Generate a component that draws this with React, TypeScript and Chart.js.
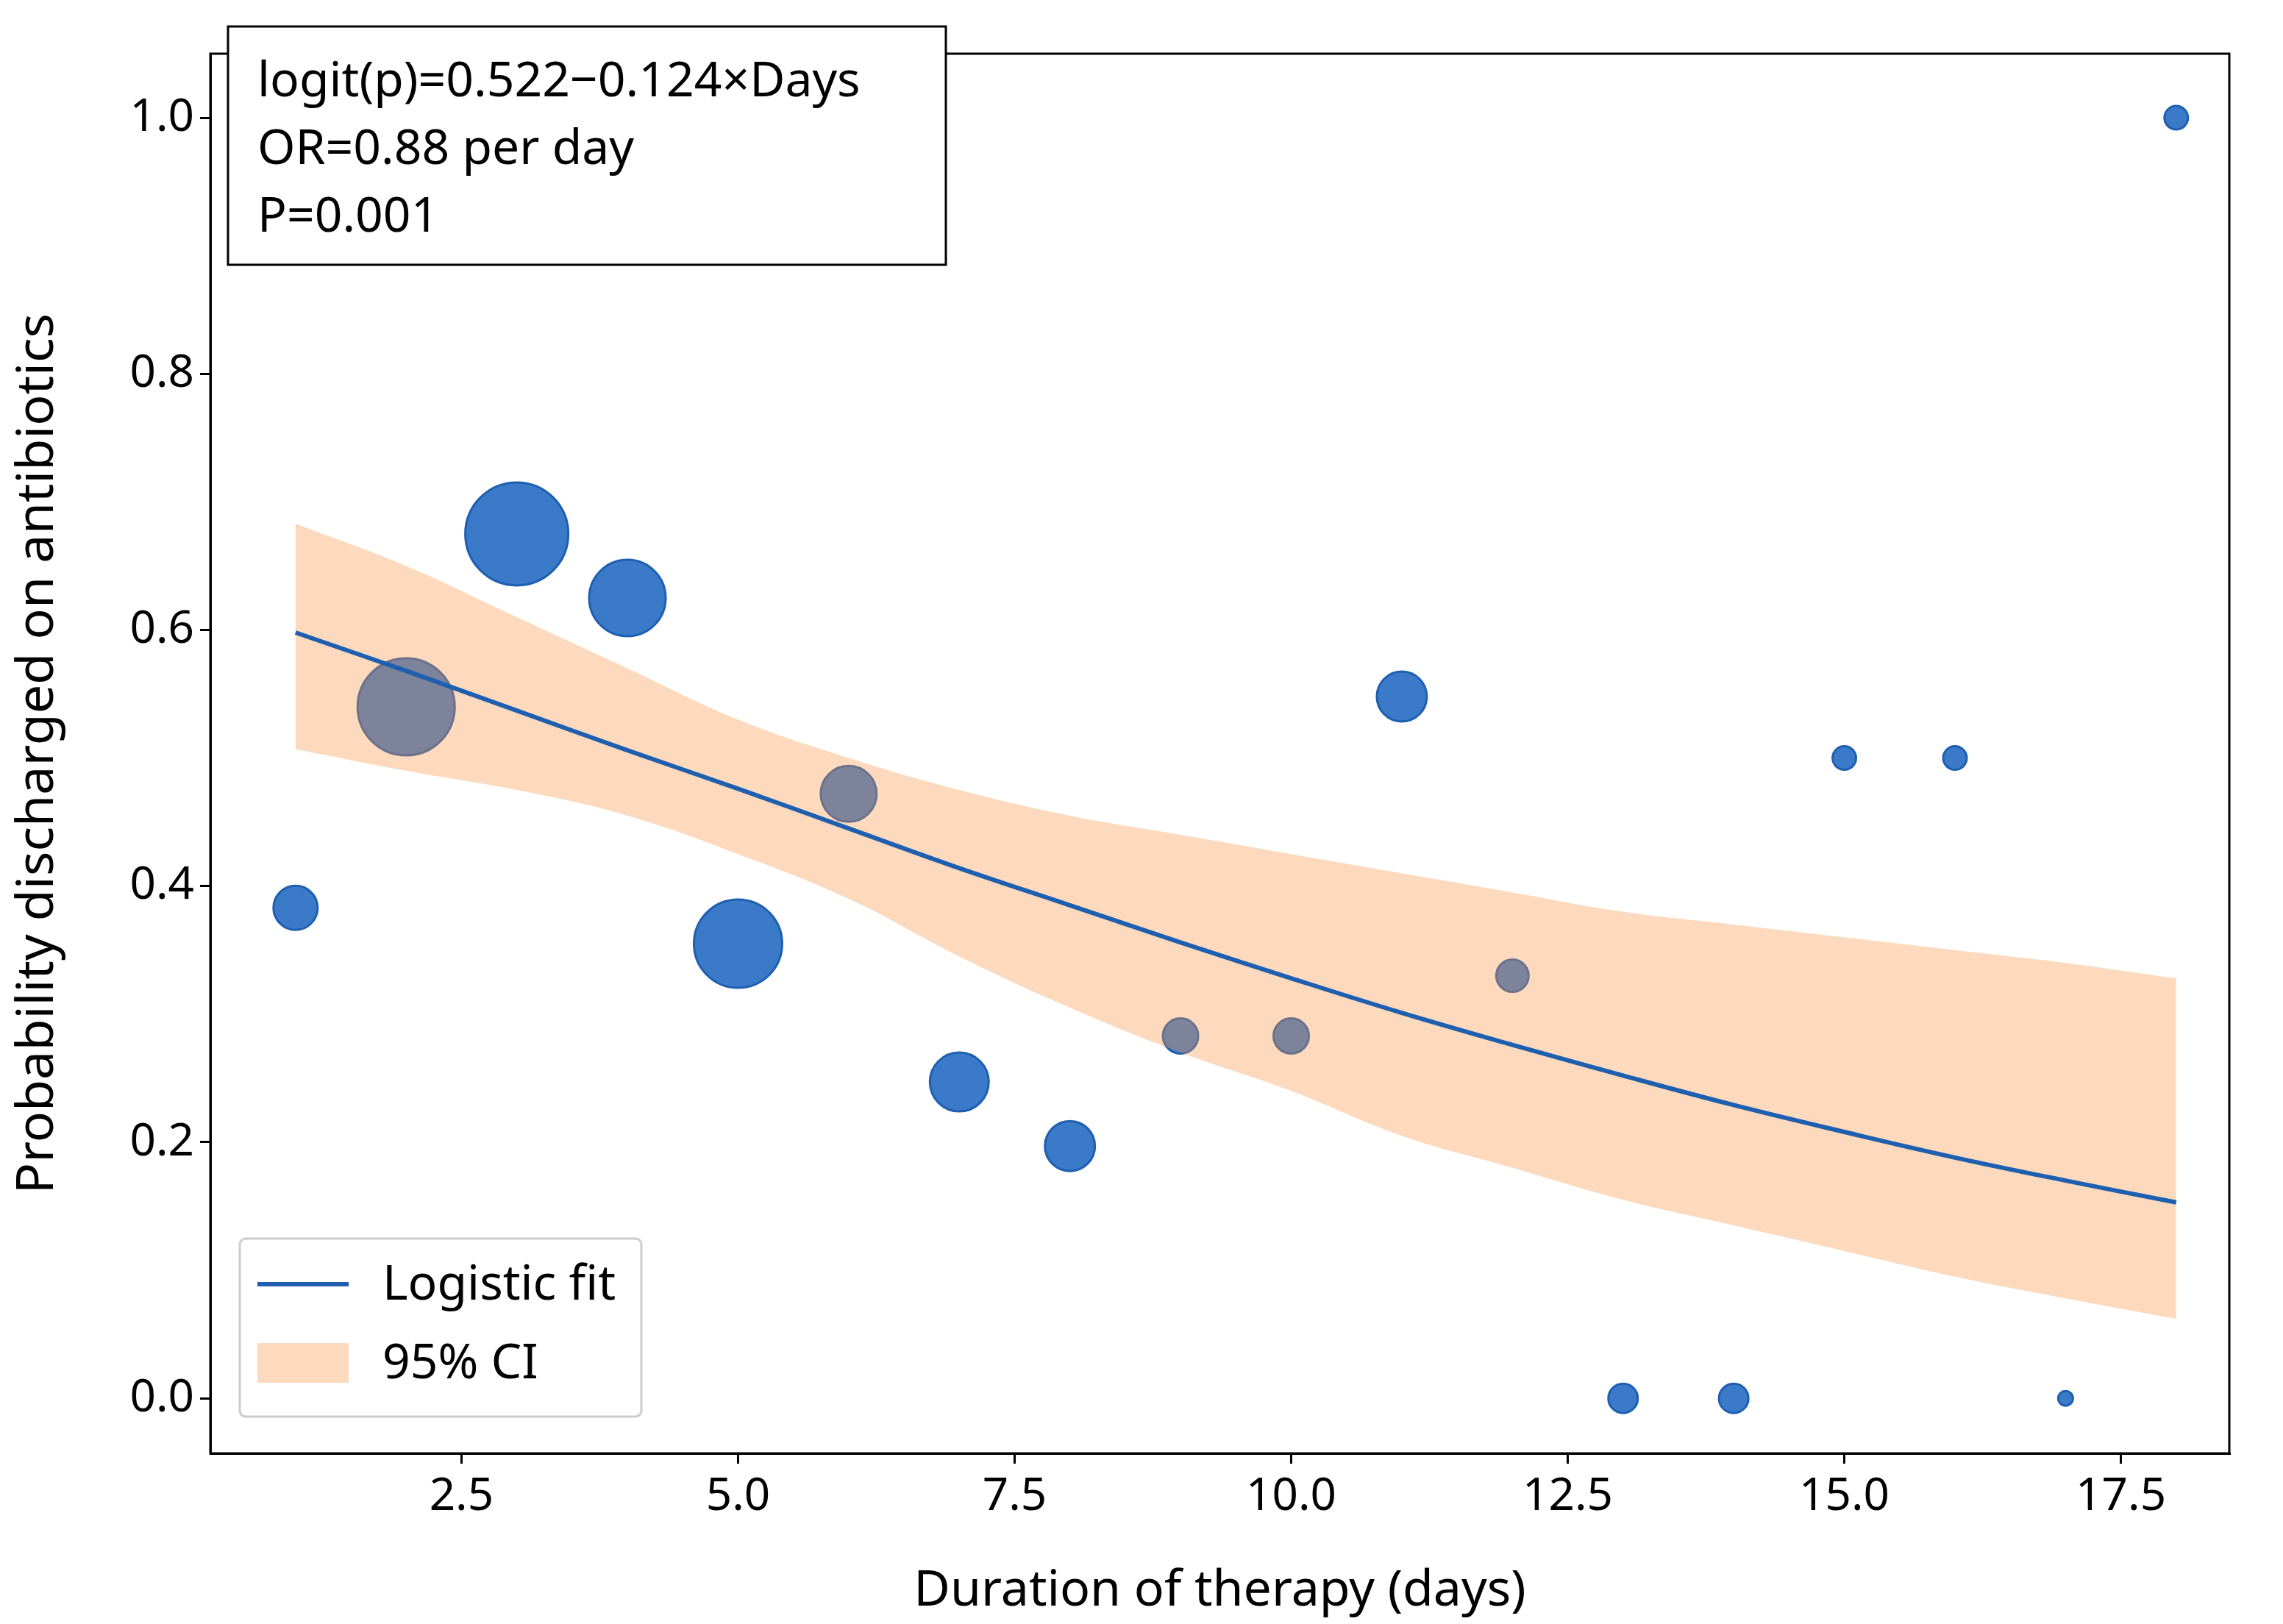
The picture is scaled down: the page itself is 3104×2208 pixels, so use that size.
import React, { useEffect, useRef } from "react";
import { Chart, registerables } from "chart.js";
Chart.register(...registerables);

const days = [1, 2, 3, 4, 5, 6, 7, 8, 9, 10, 11, 12, 13, 14, 15, 16, 17, 18];
const observed = [0.383, 0.54, 0.675, 0.625, 0.355, 0.472, 0.247, 0.197, 0.283, 0.283, 0.548, 0.33, 0.0, 0.0, 0.5, 0.5, 0.0, 1.0];
const pointRadius = [30, 66, 70, 52, 60, 38, 40, 34, 24, 24, 34, 22, 20, 20, 16, 16, 10, 16];
const fitValues = [0.598, 0.568, 0.537, 0.506, 0.476, 0.445, 0.414, 0.385, 0.356, 0.328, 0.301, 0.276, 0.252, 0.229, 0.208, 0.188, 0.17, 0.153];
const ciUpper = [0.683, 0.65, 0.61, 0.57, 0.53, 0.5, 0.475, 0.455, 0.44, 0.425, 0.41, 0.395, 0.38, 0.37, 0.36, 0.35, 0.34, 0.328];
const ciLower = [0.507, 0.49, 0.475, 0.455, 0.425, 0.39, 0.345, 0.305, 0.27, 0.24, 0.205, 0.18, 0.155, 0.135, 0.115, 0.095, 0.078, 0.062];
const xTicks = [2.5, 5.0, 7.5, 10.0, 12.5, 15.0, 17.5];
const yTicks = [0.0, 0.2, 0.4, 0.6, 0.8, 1.0];
const annotationLines = ["logit(p)=0.522\u22120.124\u00d7Days", "OR=0.88 per day", "P=0.001"];
const legendLabels = ["Logistic fit", "95% CI"];

const FONT = "'Noto Sans', 'DejaVu Sans', sans-serif";
const BAND = "rgba(250, 149, 69, 0.35)";
const LINE = "#1f5fb0";

export default function App() {
  const ref = useRef<HTMLCanvasElement>(null);
  useEffect(() => {
    document.body.style.margin = "0";
    const overlay = {
      id: "overlay",
      afterDraw(chart: any) {
        const { ctx, chartArea: a } = chart;
        ctx.save();
        ctx.strokeStyle = "#000";
        ctx.lineWidth = 3;
        ctx.strokeRect(a.left, a.top, a.right - a.left, a.bottom - a.top);
        ctx.fillStyle = "#fff";
        ctx.fillRect(310, 36, 976, 324);
        ctx.strokeRect(310, 36, 976, 324);
        ctx.fillStyle = "#000";
        ctx.font = `66px ${FONT}`;
        ctx.textBaseline = "middle";
        annotationLines.forEach((t, i) => ctx.fillText(t, 350, 112 + i * 92));
        ctx.beginPath();
        const x0 = 326, y0 = 1684, w = 546, h = 242, r = 8;
        ctx.moveTo(x0 + r, y0);
        ctx.arcTo(x0 + w, y0, x0 + w, y0 + h, r);
        ctx.arcTo(x0 + w, y0 + h, x0, y0 + h, r);
        ctx.arcTo(x0, y0 + h, x0, y0, r);
        ctx.arcTo(x0, y0, x0 + w, y0, r);
        ctx.closePath();
        ctx.fillStyle = "rgba(255,255,255,0.85)";
        ctx.fill();
        ctx.strokeStyle = "#cccccc";
        ctx.lineWidth = 3;
        ctx.stroke();
        ctx.strokeStyle = LINE;
        ctx.lineWidth = 6;
        ctx.beginPath();
        ctx.moveTo(350, 1746);
        ctx.lineTo(474, 1746);
        ctx.stroke();
        ctx.fillStyle = BAND;
        ctx.fillRect(350, 1826, 124, 54);
        ctx.fillStyle = "#000";
        ctx.font = `66px ${FONT}`;
        ctx.fillText(legendLabels[0], 520, 1748);
        ctx.fillText(legendLabels[1], 520, 1855);
        ctx.restore();
      },
    };
    const chart = new Chart(ref.current!, {
      type: "scatter",
      data: {
        datasets: [
          {
            type: "line",
            data: days.map((d, i) => ({ x: d, y: fitValues[i] })),
            borderColor: LINE,
            borderWidth: 6,
            pointRadius: 0,
            tension: 0.4,
            order: 0,
          } as any,
          {
            type: "line",
            data: days.map((d, i) => ({ x: d, y: ciUpper[i] })),
            borderWidth: 0,
            borderColor: "rgba(0,0,0,0)",
            pointRadius: 0,
            tension: 0.4,
            fill: false,
            order: 1,
          },
          {
            type: "line",
            data: days.map((d, i) => ({ x: d, y: ciLower[i] })),
            borderWidth: 0,
            borderColor: "rgba(0,0,0,0)",
            backgroundColor: BAND,
            pointRadius: 0,
            tension: 0.4,
            fill: "-1",
            order: 1,
          },
          {
            data: days.map((d, i) => ({ x: d, y: observed[i] })),
            pointRadius: pointRadius,
            backgroundColor: "#3a7ac8",
            borderColor: "#1f5fb0",
            borderWidth: 3,
            order: 2,
          },
        ],
      },
      options: {
        animation: false,
        responsive: false,
        devicePixelRatio: 1,
        layout: { padding: { top: 0, right: 4, left: 0, bottom: 0 } },
        plugins: { legend: { display: false }, tooltip: { enabled: false } },
        scales: {
          x: {
            type: "linear",
            min: 0.23,
            max: 18.48,
            afterBuildTicks: (s: any) => { s.ticks = xTicks.map((v) => ({ value: v })); },
            afterFit: (s: any) => { s.height = 232; },
            grid: { drawOnChartArea: false, drawTicks: true, tickLength: 14, color: "#000", lineWidth: 3 },
            border: { color: "#000", width: 3 },
            ticks: { color: "#000", font: { family: FONT, size: 62 }, padding: 8, callback: (v: any) => Number(v).toFixed(1), maxRotation: 0 },
            title: { display: true, text: "Duration of therapy (days)", color: "#000", font: { family: FONT, size: 68 }, padding: { top: 0 } },
          },
          y: {
            min: -0.043,
            max: 1.05,
            afterBuildTicks: (s: any) => { s.ticks = yTicks.map((v) => ({ value: v })); },
            afterFit: (s: any) => { s.width = 286; },
            grid: { drawOnChartArea: false, drawTicks: true, tickLength: 14, color: "#000", lineWidth: 3 },
            border: { color: "#000", width: 3 },
            ticks: { color: "#000", font: { family: FONT, size: 62 }, padding: 8, callback: (v: any) => Number(v).toFixed(1) },
            title: { display: true, text: "Probability discharged on antibiotics", color: "#000", font: { family: FONT, size: 70 }, padding: { top: 10, bottom: 6 } },
          },
        },
      },
      plugins: [overlay],
    } as any);
    return () => chart.destroy();
  }, []);
  return (
    <div style={{ position: "absolute", left: 0, top: 0, width: 3104, height: 2208, background: "#fff" }}>
      <canvas ref={ref} width={3104} height={2208} />
    </div>
  );
}
